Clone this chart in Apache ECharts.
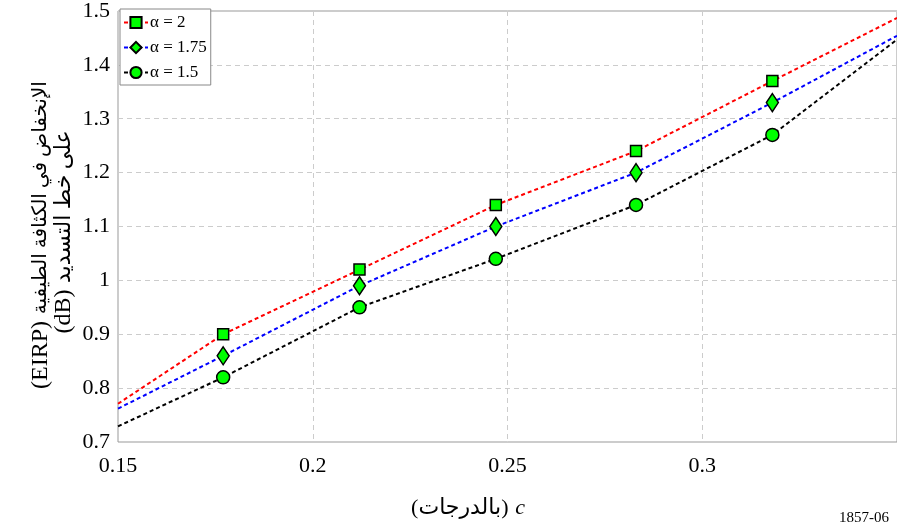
<!DOCTYPE html>
<html>
<head>
    <meta charset="utf-8">
    <script src="https://cdn.jsdelivr.net/npm/echarts@6/dist/echarts.min.js"></script>
    <style>
        html, body { margin: 0; padding: 0; background: #fff; }
    </style>
</head>
<body>
    <div id="main" style="width: 897px;height:526px;"></div>
    <script type="text/javascript">
        var myChart = echarts.init(document.getElementById('main'));

        // c values; the first and last are only the ends of the dashed curves
        var cValues = [0.15, 0.177, 0.212, 0.247, 0.283, 0.318, 0.35];
        var alpha2 = [0.771, 0.90, 1.02, 1.14, 1.24, 1.37, 1.487];
        var alpha175 = [0.762, 0.86, 0.99, 1.10, 1.20, 1.33, 1.454];
        var alpha15 = [0.729, 0.82, 0.95, 1.04, 1.14, 1.27, 1.447];
        var seriesNames = ['α = 2', 'α = 1.75', 'α = 1.5'];

        var serif = "'Liberation Serif', 'DejaVu Serif', 'DejaVu Sans'";

        function pairs(ys) {
            return cValues.map(function (c, i) {
                var item = { value: [c, ys[i]] };
                if (i === 0 || i === cValues.length - 1) {
                    item.symbol = 'none';
                }
                return item;
            });
        }

        function makeSeries(name, ys, color, symbol, size) {
            return {
                name: name,
                type: 'line',
                data: pairs(ys),
                symbol: symbol,
                symbolSize: size,
                showAllSymbol: true,
                animation: false,
                lineStyle: { color: color, width: 2, type: [4, 3] },
                itemStyle: { color: '#00ff00', borderColor: '#000', borderWidth: 1.5 },
                emphasis: { disabled: true }
            };
        }

        var latin = { fontFamily: serif, fontSize: 24, fill: '#000' };
        var arabic = { fontFamily: serif, fontSize: 20, fill: '#000' };
        var arabic2 = { fontFamily: serif, fontSize: 22, fill: '#000' };

        var option = {
            backgroundColor: '#fff',
            grid: {
                left: 118,
                right: -4,
                top: 5,
                bottom: 84,
                show: true,
                borderColor: '#999',
                borderWidth: 1
            },
            legend: {
                orient: 'vertical',
                left: 120,
                top: 9,
                padding: [5, 4, 4, 3],
                itemWidth: 24,
                itemHeight: 14,
                itemGap: 8,
                backgroundColor: '#fff',
                borderColor: '#888',
                borderWidth: 1,
                borderRadius: 0,
                data: seriesNames,
                textStyle: { fontFamily: serif, fontSize: 17, color: '#000', padding: [0, 0, 0, -3] }
            },
            xAxis: {
                type: 'value',
                min: 0.15,
                max: 0.35,
                interval: 0.05,
                axisLine: { show: false },
                axisTick: { show: false },
                axisLabel: {
                    showMaxLabel: false,
                    margin: 13,
                    fontFamily: serif,
                    fontSize: 22,
                    color: '#000'
                },
                splitLine: { lineStyle: { color: '#ccc', type: [5, 4] } }
            },
            yAxis: {
                type: 'value',
                min: 0.7,
                max: 1.5,
                interval: 0.1,
                axisLine: { show: false },
                axisTick: { show: false },
                axisLabel: {
                    margin: 8,
                    fontFamily: serif,
                    fontSize: 22,
                    color: '#000'
                },
                splitLine: { lineStyle: { color: '#ccc', type: [5, 4] } }
            },
            graphic: [
                {
                    type: 'text',
                    x: 41,
                    y: 235,
                    rotation: Math.PI / 2,
                    style: {
                        text: '{l|(EIRP)}  {a|الإنخفاض في الكثافة الطيفية}',
                        align: 'center',
                        verticalAlign: 'middle',
                        rich: { l: latin, a: arabic }
                    }
                },
                {
                    type: 'text',
                    x: 64,
                    y: 232,
                    rotation: Math.PI / 2,
                    style: {
                        text: '{l|(dB)}  {a|على خط التسديد}',
                        align: 'center',
                        verticalAlign: 'middle',
                        rich: { l: latin, a: arabic2 }
                    }
                },
                {
                    type: 'text',
                    x: 468,
                    y: 508,
                    style: {
                        text: '{a|(بالدرجات)}  {c|c}',
                        align: 'center',
                        verticalAlign: 'middle',
                        rich: {
                            a: { fontFamily: serif, fontSize: 22, fill: '#000' },
                            c: { fontFamily: serif, fontSize: 22, fontStyle: 'italic', fill: '#000' }
                        }
                    }
                },
                {
                    type: 'text',
                    right: 8,
                    top: 511,
                    style: {
                        text: '1857-06',
                        fontFamily: serif,
                        fontSize: 15,
                        fill: '#000'
                    }
                }
            ],
            series: [
                makeSeries(seriesNames[0], alpha2, '#ff0000', 'rect', 11),
                makeSeries(seriesNames[1], alpha175, '#0000ff', 'diamond', [12, 18]),
                makeSeries(seriesNames[2], alpha15, '#000000', 'circle', 13)
            ]
        };

        myChart.setOption(option);
    </script>
</body>
</html>
